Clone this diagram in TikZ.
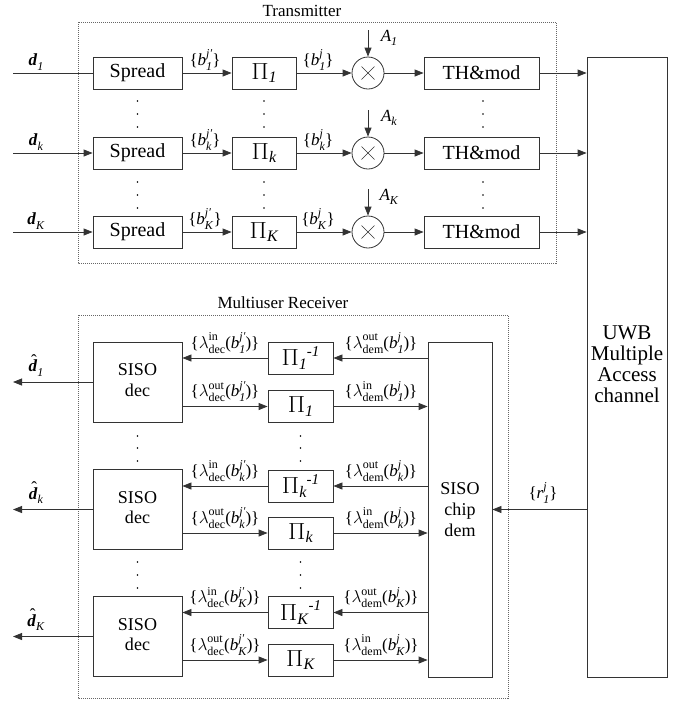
\documentclass[tikz,border=0pt]{standalone}
\usepackage{graphicx}
\usepackage[no-math]{fontspec}
\setmainfont{Liberation Serif}
\usetikzlibrary{arrows.meta}
\newcommand{\ti}[1]{\textit{#1}}
\newcommand{\bd}[1]{\textbf{\textit{#1}}}
% stacked superscript #1 and subscript #2, set as text
\newcommand{\sus}[2]{%
  \setbox0\hbox{\raisebox{0.45em}{\fontsize{12}{12}\selectfont #1}}%
  \setbox2\hbox{\raisebox{-0.28em}{\fontsize{12}{12}\selectfont #2}}%
  \ifdim\wd0>\wd2 \rlap{\box2}\box0\else\rlap{\box0}\box2\fi}
\newcommand{\sbs}[1]{\raisebox{-0.28em}{\fontsize{12}{12}\selectfont #1}}
\newcommand{\BigPi}{\scalebox{1.45}[1.35]{$\Pi$}}
\newcommand{\PiS}[1]{\BigPi\raisebox{-0.22em}{\fontsize{16}{16}\selectfont\ti{#1}}}
\newcommand{\PiI}[1]{\BigPi\raisebox{-0.22em}{\fontsize{16}{16}\selectfont\ti{#1}}\raisebox{0.55em}{\fontsize{15}{15}\selectfont\ti{-1}}}
\newcommand{\lab}[4]{\{$\lambda$\sus{#1}{#2}(\ti{b}\sus{\ti{j#3}}{\ti{#4}})\}}
\newcommand{\hatd}{\ooalign{\bd{d}\cr\hidewidth\kern2pt\raisebox{0.32em}{ˆ}\hidewidth\cr}}
\newcommand{\stk}[3]{\scalebox{#1}{\fontsize{17}{#2}\selectfont\begin{tabular}{@{}c@{}}#3\end{tabular}}}
\tikzset{
  box/.style={draw=black!80, line width=0.8pt, inner sep=0pt, fill=white},
  sm/.style={font=\fontsize{17}{19}\selectfont, inner sep=0pt},
  arr/.style={draw=black!80, line width=0.8pt, -{Triangle[length=9pt,width=7pt]}},
  ln/.style={draw=black!80, line width=0.8pt},
  frame/.style={draw=black!60, line width=0.6pt, dash pattern=on 1pt off 1pt},
  dot/.style={fill=black, circle, inner sep=0pt, minimum size=1.6pt}
}
\begin{document}
\begin{tikzpicture}[x=1pt,y=-1pt, every node/.style={font=\fontsize{17}{19}\selectfont}]
\useasboundingbox (0,0) rectangle (685,702);
% ---------------- Transmitter ----------------
\node[sm] (ttx) at (302,11) {Transmitter};
\draw[frame] (78,22) rectangle (556,263);
\node[box, minimum width=80pt, minimum height=620pt] (ch) at (627,367) {};
\node (cht) at (627,367) {\stk{1.235}{17}{UWB\\Multiple\\Access\\channel}};
\foreach \r/\y/\s in {1/73/1, 2/153/k, 3/232/K}{
  \node[box, minimum width=89pt, minimum height=32pt] (s\r) at (137.5,\y) {\scalebox{1.176}{Spread}};
  \node[box, minimum width=64pt, minimum height=32pt] (p\r) at (264,\y) {\PiS{\s}};
  \node[box, circle, minimum size=32pt] (m\r) at (368,\y) {};
  \draw[line width=0.6pt, black!80] ([shift={(-6.5,-6.5)}]m\r.center) -- ([shift={(6.5,6.5)}]m\r.center);
  \draw[line width=0.6pt, black!80] ([shift={(-6.5,6.5)}]m\r.center) -- ([shift={(6.5,-6.5)}]m\r.center);
  \node[box, minimum width=115pt, minimum height=32pt] (t\r) at (481.5,\y) {\scalebox{1.176}{TH\&mod}};
  \coordinate (in\r) at (13,\y);
  \coordinate (a\r) at (368,{\y-43});
  \node[sm] (dl\r) at (36,{\y-11}) {\bd{d}\sbs{\ti{\s}}};
  \node[sm] (bl\r) at (205,{\y-13}) {\{\ti{b}\sus{\ti{j′}}{\ti{\s}}\}};
  \node[sm] (bm\r) at (318,{\y-13}) {\{\ti{b}\sus{\ti{j}}{\ti{\s}}\}};
  \node[sm] (al\r) at (389,{\y-35}) {\ti{A}\sbs{\ti{\s}}};
  \draw[arr] (s\r) -- (p\r);
  \draw[arr] (p\r) -- (m\r);
  \draw[arr] (m\r) -- (t\r);
  \draw[arr] (a\r) -- (m\r);
  \draw[arr] (t\r) -- (t\r -| ch.west);
}
\draw[ln] (in1) -- (s1);
\draw[arr] (in2) -- (s2);
\draw[arr] (in3) -- (s3);
% transmitter dots
\foreach \x in {137.5,264,483}{
  \foreach \yy in {101,114,127,182,195,208}{
    \node[dot] (td\x-\yy) at (\x,\yy) {};
  }
}
% ---------------- Receiver ----------------
\node[sm] (trx) at (283,303) {Multiuser Receiver};
\draw[frame] (78,315) rectangle (508,698);
\node[box, minimum width=64pt, minimum height=335pt] (cd) at (460,509.5) {};
\node (cdt) at (460,511) {\stk{1.06}{19.8}{SISO\\chip\\dem}};
\foreach \r/\ya/\yb/\yc/\s in {1/358/406.5/382/1, 2/486/533/509.5/k, 3/612.5/660/636.5/K}{
  \node[box, minimum width=89pt, minimum height=80pt] (d\r) at (137.5,\yc) {\stk{1.06}{19}{SISO\\dec}};
  \node[box, minimum width=65pt, minimum height=32pt] (pi\r) at (300.5,\ya) {\PiI{\s}};
  \node[box, minimum width=65pt, minimum height=32pt] (pn\r) at (300.5,\yb) {\PiS{\s}};
  \coordinate (o\r) at (13,\yc);
  \draw[arr] (cd.west |- pi\r) -- (pi\r);
  \draw[arr] (pi\r) -- (d\r.east |- pi\r);
  \draw[arr] (d\r.east |- pn\r) -- (pn\r);
  \draw[arr] (pn\r) -- (cd.west |- pn\r);
  \draw[arr] (d\r) -- (o\r);
  \node[sm] (hl\r) at (36,{\yc-14}) {\hatd\sbs{\ti{\s}}};
  \node[sm] (l1\r) at (225,{\ya-15}) {\lab{in}{dec}{′}{\s}};
  \node[sm] (l2\r) at (381,{\ya-15}) {\lab{out}{dem}{}{\s}};
  \node[sm] (l3\r) at (225,{\yb-15}) {\lab{out}{dec}{′}{\s}};
  \node[sm] (l4\r) at (381,{\yb-15}) {\lab{in}{dem}{}{\s}};
}
\foreach \x in {137.5,300.5}{
  \foreach \yy in {436,448,461,562,575,588}{
    \node[dot] (rd\x-\yy) at (\x,\yy) {};
  }
}
\draw[arr] (ch.west |- cd) -- (cd.east |- cd);
\node[sm] (rl) at (543,493) {\{\ti{r}\sus{\ti{j}}{\ti{1}}\}};
\end{tikzpicture}
\end{document}
